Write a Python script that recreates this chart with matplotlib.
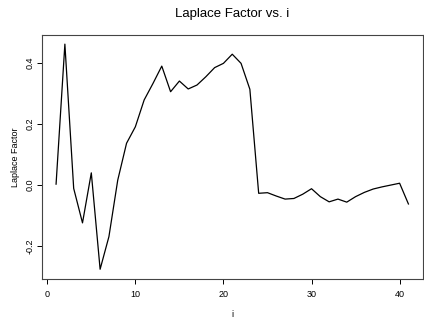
import matplotlib
matplotlib.use("Agg")
import matplotlib.pyplot as plt

i_vals = list(range(1, 42))
laplace = [0.002, 0.461, -0.012, -0.125, 0.039, -0.277, -0.170, 0.015, 0.136, 0.190,
           0.278, 0.332, 0.389, 0.305, 0.340, 0.314, 0.327, 0.354, 0.384, 0.398,
           0.428, 0.398, 0.313, -0.028, -0.026, -0.037, -0.047, -0.045, -0.031, -0.013,
           -0.039, -0.056, -0.047, -0.057, -0.039, -0.025, -0.014, -0.007, -0.001, 0.005,
           -0.063]
xticks = [0, 10, 20, 30, 40]
yticks = [-0.2, 0.0, 0.2, 0.4]

plt.rcParams['font.family'] = ['Liberation Sans', 'DejaVu Sans']
fig = plt.figure(figsize=(4.24, 3.18), dpi=100)
ax = fig.add_axes([0.099, 0.1226, 0.8975, 0.7674])
ax.plot(i_vals, laplace, color='black', linewidth=0.9)
ax.set_xlim(-0.6, 42.6)
ax.set_ylim(-0.309, 0.491)
ax.set_xticks(xticks)
ax.set_yticks(yticks)
ax.set_xticklabels([str(t) for t in xticks], fontsize=6.5)
ax.set_yticklabels(['-0.2', '0.0', '0.2', '0.4'], fontsize=6.5, rotation=90, va='center')
ax.tick_params(direction='out', length=3.5, width=0.7)
ax.tick_params(axis='x', pad=4.5)
ax.tick_params(axis='y', pad=1.5)
for s in ax.spines.values():
    s.set_linewidth(0.8)
    s.set_color('#444444')
ax.set_xlabel('i', fontsize=6.5, labelpad=7.5)
ax.set_ylabel('Laplace Factor', fontsize=6.5, labelpad=4)
fig.text(0.547, 0.955, 'Laplace Factor vs. i', ha='center', va='center', fontsize=9.5)
fig.savefig('out.png', dpi=100)
